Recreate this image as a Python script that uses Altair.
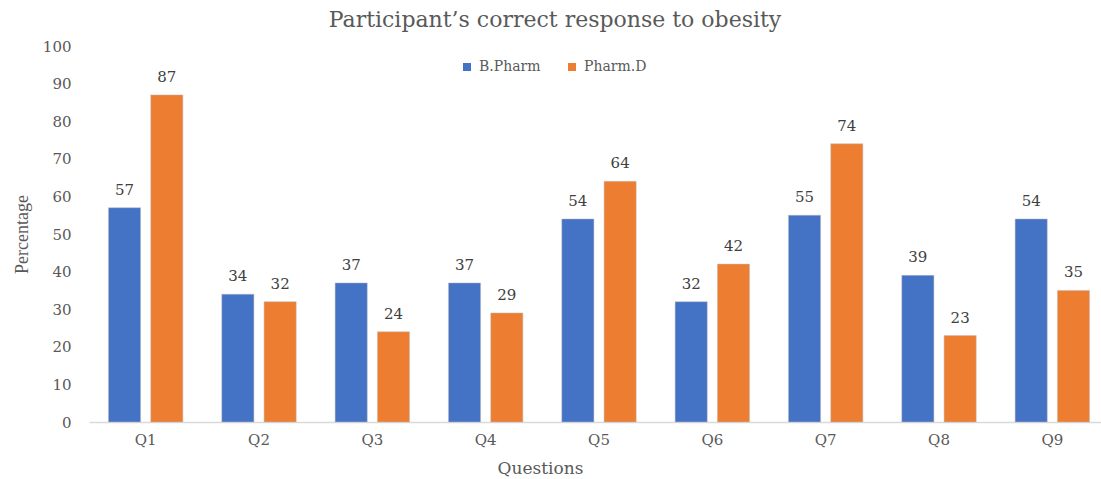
import altair as alt
import pandas as pd

questions = ["Q1", "Q2", "Q3", "Q4", "Q5", "Q6", "Q7", "Q8", "Q9"]
bpharm = [57, 34, 37, 37, 54, 32, 55, 39, 54]
pharmd = [87, 32, 24, 29, 64, 42, 74, 23, 35]
groups = ["B.Pharm", "Pharm.D"]
colors = ["#4472C4", "#ED7D31"]
yticks = [0, 10, 20, 30, 40, 50, 60, 70, 80, 90, 100]

rows = []
for q, b, p in zip(questions, bpharm, pharmd):
    rows.append({"Question": q, "Group": groups[0], "Value": b})
    rows.append({"Question": q, "Group": groups[1], "Value": p})
df = pd.DataFrame(rows)

FONT = "DejaVu Serif"
GRAY = "#595959"

xscale = alt.Scale(paddingInner=0, paddingOuter=0, range=[0, 1020])
x = alt.X("Question:N", sort=questions, scale=xscale,
          axis=alt.Axis(title="Questions", labelAngle=0, ticks=False,
                        domainColor="#D9D9D9", domainWidth=1.5,
                        labelFont=FONT, labelFontSize=15, labelColor=GRAY,
                        labelPadding=10,
                        titleFont=FONT, titleFontSize=17, titleColor=GRAY,
                        titleFontWeight="normal", titleBaseline="middle",
                        titleX=451, titleY=46))
xo = alt.XOffset("Group:N", sort=groups,
                 scale=alt.Scale(paddingInner=0.24, paddingOuter=0.46))
y = alt.Y("Value:Q", scale=alt.Scale(domain=[0, 100], nice=False),
          axis=alt.Axis(title="Percentage", values=yticks, tickCount=11,
                        grid=False, ticks=False, domain=False,
                        labelOverlap=False,
                        labelFont=FONT, labelFontSize=15, labelColor=GRAY,
                        labelPadding=18,
                        titleFont="Liberation Serif", titleFontSize=18,
                        titleColor=GRAY, titleFontWeight="normal",
                        titleX=-67, titleY=188, titleAngle=-90,
                        titleBaseline="middle", titleAlign="center"))
color = alt.Color("Group:N", sort=groups,
                  scale=alt.Scale(domain=groups, range=colors),
                  legend=alt.Legend(title=None, orient="none", direction="horizontal",
                                    legendX=371, legendY=14,
                                    symbolType="square", symbolSize=64,
                                    symbolStrokeWidth=0,
                                    labelFont=FONT, labelFontSize=14,
                                    labelColor=GRAY, labelOffset=5,
                                    columnPadding=24))

bars = alt.Chart(df).mark_bar(stroke="#BFBFBF", strokeWidth=0.5).encode(
    x=x, xOffset=xo, y=y, color=color)

labels = alt.Chart(df).mark_text(
    baseline="bottom", dy=-10, font=FONT, fontSize=15, color="#404040"
).encode(x=x, xOffset=xo, y=y, text=alt.Text("Value:Q"))

chart = alt.layer(bars, labels).properties(
    width=1012, height=376,
    autosize=alt.AutoSizeParams(type="none"),
    padding={"left": 89, "top": 46, "right": 0, "bottom": 57},
    title=alt.TitleParams("Participant’s correct response to obesity",
                          font=FONT, fontSize=22, color=GRAY,
                          fontWeight="normal", anchor="middle",
                          frame="group", offset=7, dx=-40),
).configure_view(stroke=None)

chart.save("out.html", embed_options={"renderer": "svg", "actions": False})
